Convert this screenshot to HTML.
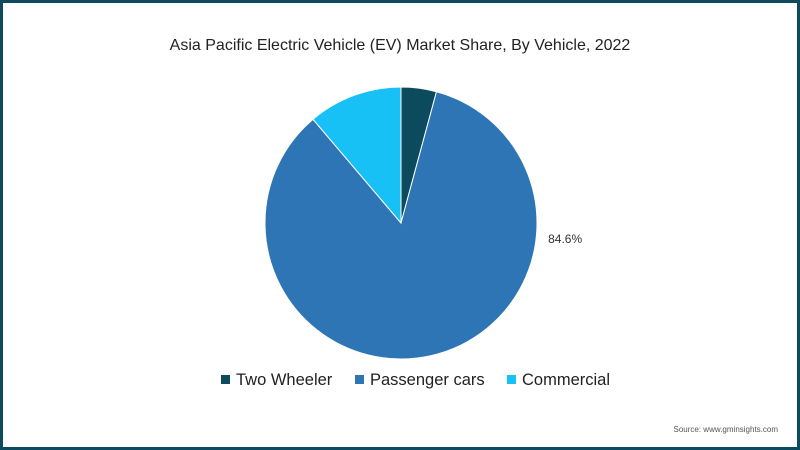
<!DOCTYPE html>
<html><head><meta charset="utf-8"><style>
body{margin:0;width:800px;height:450px;overflow:hidden;background:#fff;font-family:"Liberation Sans",sans-serif}
#frame{position:absolute;left:0;top:0;width:794px;height:444px;border:3px solid #0e4a5f;background:#fff}
</style></head><body>
<div id="frame"></div>
<svg id="chart" width="800" height="450" style="position:absolute;left:0;top:0">
<text x="400" y="50" text-anchor="middle" font-size="16" fill="#222">Asia Pacific Electric Vehicle (EV) Market Share, By Vehicle, 2022</text>
<g id="slices"></g>
<g id="legend"></g>
<text x="778" y="432" text-anchor="end" font-size="8" fill="#555">Source:  www.gminsights.com</text>
</svg>
<script>
const categories=["Two Wheeler","Passenger cars","Commercial"];
const values=[4.2,84.6,11.2];
const labels=["","84.6%",""];
const colors=["#0c4a5e","#2e75b6","#17c0f5"];
const ns="http://www.w3.org/2000/svg";
const cx=401,cy=223,r=136;
const labelAngle=1.68;
const total=values.reduce((a,b)=>a+b,0);
const g=document.getElementById("slices");
let a0=0;
values.forEach((v,i)=>{
  const a1=a0+v/total*2*Math.PI;
  const x0=cx+r*Math.sin(a0),y0=cy-r*Math.cos(a0),x1=cx+r*Math.sin(a1),y1=cy-r*Math.cos(a1);
  const p=document.createElementNS(ns,"path");
  p.setAttribute("d",`M${cx},${cy}L${x0},${y0}A${r},${r} 0 ${a1-a0>Math.PI?1:0} 1 ${x1},${y1}Z`);
  p.setAttribute("fill",colors[i]);p.setAttribute("stroke","#fff");p.setAttribute("stroke-width","1");
  
  
  g.appendChild(p);
  if(labels[i]){
    const am=(labelAngle>a0&&labelAngle<a1)?labelAngle:(a0+a1)/2, lr=r+12;
    const t=document.createElementNS(ns,"text");
    t.setAttribute("x",cx+lr*Math.sin(am));
    t.setAttribute("y",cy-lr*Math.cos(am)+4);
    t.setAttribute("font-size","12");t.setAttribute("fill","#333");
    t.setAttribute("text-anchor",Math.sin(am)>=0?"start":"end");
    t.textContent=labels[i];
    
    
    g.appendChild(t);
  }
  a0=a1;
});
const lg=document.getElementById("legend");
const lx=[221,355,507];
categories.forEach((c,i)=>{
  const s=document.createElementNS(ns,"rect");
  s.setAttribute("x",lx[i]);s.setAttribute("y",375);s.setAttribute("width",9);s.setAttribute("height",9);s.setAttribute("fill",colors[i]);
  
  
  lg.appendChild(s);
  const t=document.createElementNS(ns,"text");
  t.setAttribute("x",lx[i]+15);t.setAttribute("y",385);t.setAttribute("font-size","16.5");t.setAttribute("fill","#222");
  t.textContent=c;
  
  
  lg.appendChild(t);
});
</script>
</body></html>
